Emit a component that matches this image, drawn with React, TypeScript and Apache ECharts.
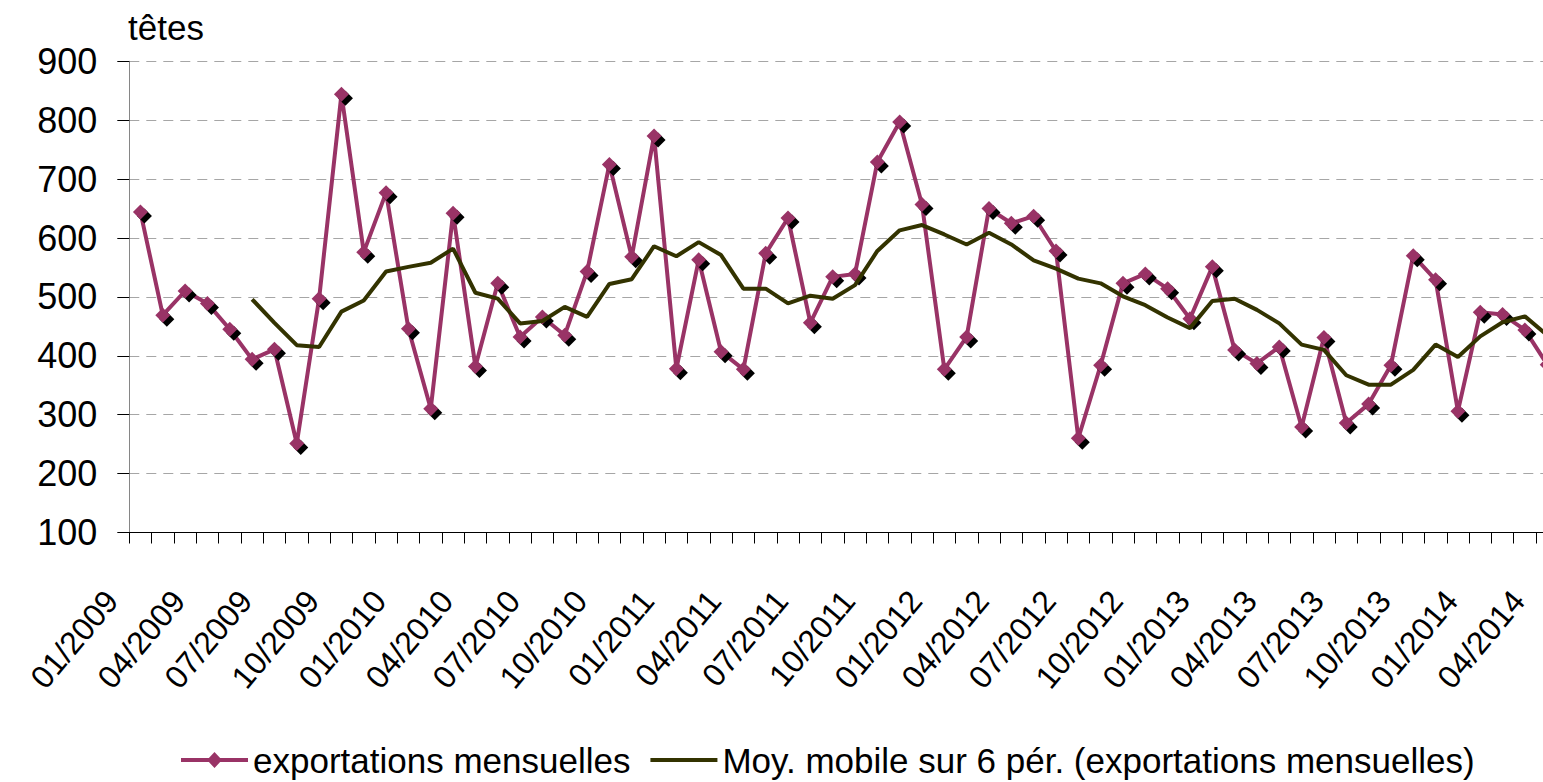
import React, { useEffect, useRef } from "react";
import * as echarts from "echarts";

const months = [
  "01/2009", "02/2009", "03/2009", "04/2009", "05/2009", "06/2009", "07/2009", "08/2009", "09/2009", "10/2009", "11/2009", "12/2009",
  "01/2010", "02/2010", "03/2010", "04/2010", "05/2010", "06/2010", "07/2010", "08/2010", "09/2010", "10/2010", "11/2010", "12/2010",
  "01/2011", "02/2011", "03/2011", "04/2011", "05/2011", "06/2011", "07/2011", "08/2011", "09/2011", "10/2011", "11/2011", "12/2011",
  "01/2012", "02/2012", "03/2012", "04/2012", "05/2012", "06/2012", "07/2012", "08/2012", "09/2012", "10/2012", "11/2012", "12/2012",
  "01/2013", "02/2013", "03/2013", "04/2013", "05/2013", "06/2013", "07/2013", "08/2013", "09/2013", "10/2013", "11/2013", "12/2013",
  "01/2014", "02/2014", "03/2014", "04/2014",
];

const exportations = [
  644, 469, 510, 489, 445, 394, 411, 251, 497, 844, 576, 677,
  446, 310, 642, 382, 523, 432, 466, 435, 543, 725, 568, 773,
  378, 563, 407, 377, 574, 634, 456, 534, 539, 729, 797, 657,
  377, 432, 650, 625, 637, 578, 260, 384, 523, 539, 514, 463,
  551, 410, 387, 415, 279, 431, 286, 318, 384, 570, 529, 306,
  474, 470, 444, 385,
];

const movingAverage = [
  null, null, null, null, null, 496, 456, 418, 415, 475, 494, 543,
  551, 558, 582, 507, 497, 455, 459, 483, 466, 522, 530, 586,
  569, 593, 571, 514, 514, 489, 502, 497, 520, 578, 613, 622,
  606, 589, 609, 589, 562, 548, 531, 523, 501, 486, 465, 447,
  493, 497, 478, 455, 419, 410, 367, 351, 351, 376, 419, 398,
  433, 457, 467, 435,
];

const Y_MIN = 100;
const Y_MAX = 900;
const Y_STEP = 100;

const NAME_EXPORTS = "exportations mensuelles";
const NAME_MA = "Moy. mobile sur 6 pér. (exportations mensuelles)";
const UNIT = "têtes";

const MAGENTA = "#993366";
const OLIVE = "#333300";
const FONT = "'Liberation Sans', Arial, sans-serif";

export default function App() {
  const ref = useRef<HTMLDivElement>(null);

  useEffect(() => {
    if (!ref.current) return;
    const chart = echarts.init(ref.current, null, { renderer: "svg" });
    chart.setOption({
      animation: false,
      backgroundColor: "#ffffff",
      title: {
        text: UNIT,
        left: 128,
        top: 10,
        padding: 0,
        textStyle: { fontFamily: FONT, fontSize: 35, fontWeight: "normal", color: "#000", lineHeight: 35 },
      },
      legend: {
        left: 181,
        top: 742,
        padding: 0,
        itemGap: 20,
        itemWidth: 67,
        itemHeight: 16,
        itemStyle: { borderWidth: 0 },
        textStyle: { fontFamily: FONT, fontSize: 35, color: "#000", lineHeight: 36 },
        data: [
          { name: NAME_EXPORTS, icon: "path://M0,6 L67,6 L67,10 L0,10 Z M33.5,0 L41,8 L33.5,16 L26,8 Z" },
          { name: NAME_MA, icon: "path://M0,0 L0.01,0 L0.01,0.01 Z M0,16 L0.01,16 L0.01,15.99 Z M0,6 L67,6 L67,10 L0,10 Z" },
        ],
      },
      grid: {
        left: 129.3,
        top: 61.3,
        right: -15.4,
        bottom: 249.5,
        containLabel: false,
        outerBoundsMode: "none",
      },
      xAxis: {
        type: "category",
        data: months,
        boundaryGap: true,
        axisLine: { onZero: false, lineStyle: { color: "#000", width: 1 } },
        axisTick: { show: true, interval: 0, length: 11, alignWithLabel: false, lineStyle: { color: "#000" } },
        axisLabel: {
          interval: 2,
          rotate: 50,
          margin: 28,
          padding: [0, 45, 0, 0],
          fontSize: 32,
          fontFamily: FONT,
          color: "#000",
          hideOverlap: false,
        },
        splitLine: { show: false },
      },
      yAxis: {
        type: "value",
        min: Y_MIN,
        max: Y_MAX,
        interval: Y_STEP,
        axisLine: { show: true, lineStyle: { color: "#868686", width: 1 } },
        axisTick: { show: true, length: 12, lineStyle: { color: "#000" } },
        axisLabel: { margin: 32, fontSize: 36, fontFamily: FONT, color: "#000" },
        splitLine: { show: true, lineStyle: { color: "#a6a6a6", type: [10, 7], width: 1 } },
      },
      series: [
        {
          name: NAME_EXPORTS,
          type: "line",
          data: exportations,
          color: MAGENTA,
          symbol: "none",
          lineStyle: { color: MAGENTA, width: 4 },
          itemStyle: { color: MAGENTA },
          z: 2,
        },
        {
          name: "ombre",
          type: "line",
          data: exportations,
          symbol: "diamond",
          symbolSize: 15,
          symbolOffset: [4, 4],
          showAllSymbol: true,
          lineStyle: { width: 0, opacity: 0 },
          itemStyle: { color: "#000" },
          z: 3,
        },
        {
          name: "marqueurs",
          type: "line",
          data: exportations,
          symbol: "diamond",
          symbolSize: 15,
          showAllSymbol: true,
          lineStyle: { width: 0, opacity: 0 },
          itemStyle: { color: MAGENTA },
          z: 4,
        },
        {
          name: NAME_MA,
          type: "line",
          data: movingAverage,
          color: OLIVE,
          symbol: "none",
          lineStyle: { color: OLIVE, width: 4 },
          itemStyle: { color: OLIVE },
          z: 5,
        },
      ],
    });
    return () => chart.dispose();
  }, []);

  return (
    <div
      ref={ref}
      style={{ position: "absolute", left: 0, top: 0, width: 1543, height: 782, background: "#fff" }}
    />
  );
}
